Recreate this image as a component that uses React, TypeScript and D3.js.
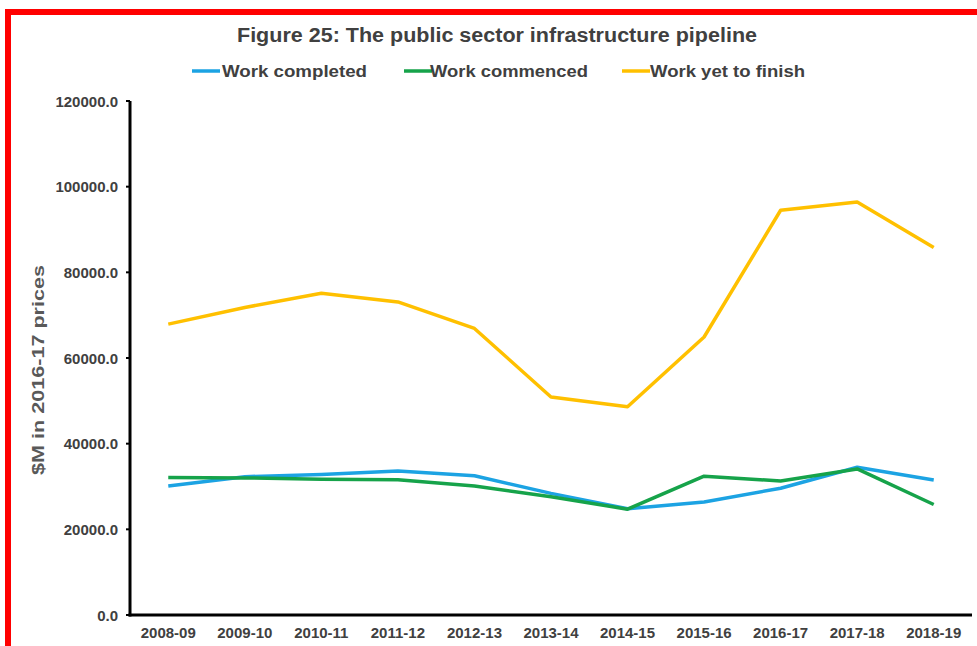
import React from "react";
import * as d3 from "d3";

const categories = ["2008-09","2009-10","2010-11","2011-12","2012-13","2013-14","2014-15","2015-16","2016-17","2017-18","2018-19"];
const workCompleted = [30100, 32300, 32800, 33600, 32500, 28400, 24800, 26400, 29600, 34500, 31500];
const workCommenced = [32100, 32000, 31700, 31600, 30100, 27600, 24700, 32400, 31300, 34100, 25800];
const workYetToFinish = [67900, 71800, 75100, 73100, 66900, 50900, 48600, 64900, 94500, 96400, 85800];
const yTicks = [0, 20000, 40000, 60000, 80000, 100000, 120000];
const seriesNames = ["Work completed", "Work commenced", "Work yet to finish"];

const W = 977, H = 646;
const left = 130, right = 972, top = 101, bottom = 615;

export default function App() {
  const x = d3.scaleBand<string>().domain(categories).range([left, right]);
  const y = d3.scaleLinear().domain([0, 120000]).range([bottom, top]);
  const line = d3.line<number>()
    .x((_, i) => (x(categories[i]) as number) + x.bandwidth() / 2)
    .y(d => y(d));

  const series = [
    { name: seriesNames[0], values: workCompleted, color: "#1CA3E3" },
    { name: seriesNames[1], values: workCommenced, color: "#16A34A" },
    { name: seriesNames[2], values: workYetToFinish, color: "#FFC000" },
  ];
  const legend = [
    { lx: 192, tx: 222, tw: 145 },
    { lx: 404, tx: 430, tw: 158 },
    { lx: 622, tx: 650, tw: 155 },
  ];
  const font = "'Liberation Sans', Arial, sans-serif";

  return (
    <svg width={W} height={H} style={{ position: "absolute", left: 0, top: 0, background: "#fff" }} fontFamily={font}>
      <rect x={0} y={0} width={W} height={H} fill="#fff" />
      <rect x={5} y={9} width={W - 5} height={6} fill="#FF0000" />
      <rect x={5} y={9} width={6} height={H - 9} fill="#FF0000" />
      <text x={497} y={42} textAnchor="middle" fontSize={20} fontWeight="bold" fill="#404040" textLength={520} lengthAdjust="spacingAndGlyphs">
        Figure 25: The public sector infrastructure pipeline
      </text>
      {series.map((s, i) => (
        <g key={s.name}>
          <line x1={legend[i].lx} x2={legend[i].lx + 28} y1={71} y2={71} stroke={s.color} strokeWidth={3.5} />
          <text x={legend[i].tx} y={77} fontSize={16} fontWeight="bold" fill="#404040" textLength={legend[i].tw} lengthAdjust="spacingAndGlyphs">{s.name}</text>
        </g>
      ))}
      <text transform={`translate(44,370) rotate(-90)`} textAnchor="middle" fontSize={17} fontWeight="bold" fill="#595959" textLength={210} lengthAdjust="spacingAndGlyphs">
        $M in 2016-17 prices
      </text>
      {yTicks.map(t => (
        <g key={t}>
          <line x1={left - 4} x2={left} y1={y(t)} y2={y(t)} stroke="#000" strokeWidth={2} />
          <text x={118} y={y(t) + 5.5} textAnchor="end" fontSize={15} fontWeight="bold" fill="#404040">{t.toFixed(1)}</text>
        </g>
      ))}
      {categories.map(c => (
        <text key={c} x={(x(c) as number) + x.bandwidth() / 2} y={638} textAnchor="middle" fontSize={15} fontWeight="bold" fill="#404040">{c}</text>
      ))}
      {series.map(s => (
        <path key={s.name} d={line(s.values) || ""} fill="none" stroke={s.color} strokeWidth={3.5} strokeLinejoin="round" />
      ))}
      <line x1={left} x2={left} y1={top} y2={bottom + 1.5} stroke="#000" strokeWidth={3} />
      <line x1={left - 1.5} x2={right} y1={bottom} y2={bottom} stroke="#000" strokeWidth={3} />
    </svg>
  );
}
